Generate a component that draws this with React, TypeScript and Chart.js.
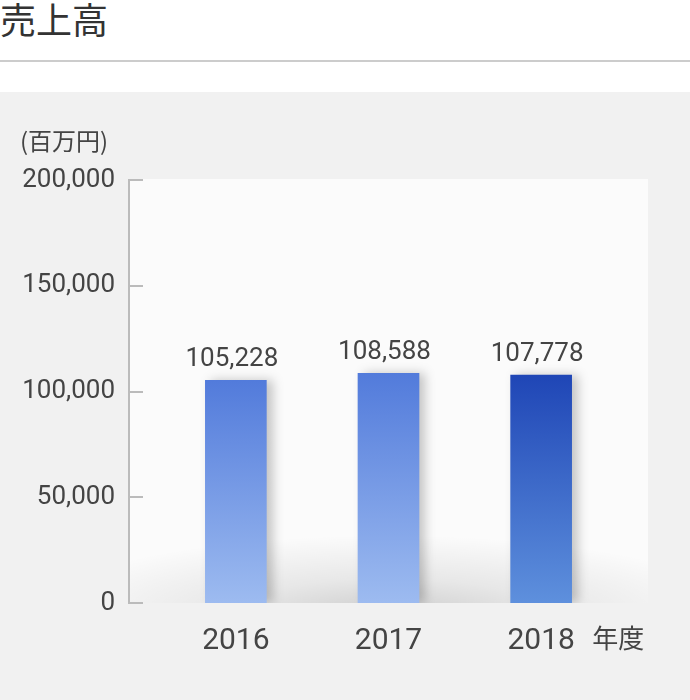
import { useEffect, useRef } from "react";
import { Chart, registerables } from "chart.js";
import type { Plugin } from "chart.js";

Chart.register(...registerables);

const TITLE = "売上高";
const UNIT = "(百万円)";
const X_UNIT = "年度";
const YEARS = ["2016", "2017", "2018"];
const SALES = [105228, 108588, 107778];
const Y_TICKS = [0, 50000, 100000, 150000, 200000];

const BAR_TOP = ["#527bdb", "#527bdb", "#1f46b6"];
const BAR_BOTTOM = ["#9dbbf0", "#9dbbf0", "#5e90dd"];
const TEXT = "#444444";
const NUM_FONT = "Roboto";
const JP_FONT = '"Noto Sans CJK JP"';

const fmt = (v: number) => v.toLocaleString("en-US");

const decor: Plugin<"bar"> = {
  id: "decor",
  beforeDraw(chart) {
    const { ctx, chartArea: a } = chart;
    ctx.save();
    ctx.fillStyle = "#fbfbfb";
    ctx.fillRect(a.left, a.top - 1, a.right - a.left, a.bottom - a.top + 1);
    // soft curved shadow along the floor
    ctx.beginPath();
    ctx.rect(a.left, a.top, a.right - a.left, a.bottom - a.top);
    ctx.clip();
    ctx.translate((a.left + a.right) / 2, a.bottom);
    ctx.scale(4.5, 1);
    const g = ctx.createRadialGradient(0, 12, 0, 0, 12, 80);
    g.addColorStop(0, "rgba(0,0,0,0.19)");
    g.addColorStop(0.45, "rgba(0,0,0,0.08)");
    g.addColorStop(1, "rgba(0,0,0,0)");
    ctx.fillStyle = g;
    ctx.fillRect(-200, -100, 400, 120);
    ctx.restore();
  },
  beforeDatasetsDraw(chart) {
    const { ctx } = chart;
    ctx.save();
    ctx.shadowColor = "rgba(0,0,0,0.22)";
    ctx.shadowBlur = 10;
    ctx.shadowOffsetX = 6;
  },
  afterDatasetsDraw(chart) {
    const { ctx } = chart;
    ctx.restore();
    ctx.save();
    ctx.fillStyle = TEXT;
    ctx.font = `26px ${NUM_FONT}`;
    ctx.textAlign = "center";
    ctx.textBaseline = "alphabetic";
    chart.getDatasetMeta(0).data.forEach((el, i) => {
      ctx.fillText(fmt(SALES[i]), el.x - 4, el.y - 14);
    });
    ctx.restore();
  },
  afterDraw(chart) {
    const { ctx, chartArea: a } = chart;
    const y = chart.scales.y;
    const x = chart.scales.x;
    ctx.save();
    ctx.strokeStyle = "#bbbbbb";
    ctx.lineWidth = 2;
    y.ticks.forEach((t) => {
      const py = Math.round(y.getPixelForValue(t.value));
      ctx.beginPath();
      ctx.moveTo(a.left - 1, py);
      ctx.lineTo(a.left + 14, py);
      ctx.stroke();
    });
    ctx.fillStyle = TEXT;
    ctx.textBaseline = "middle";
    ctx.textAlign = "left";
    ctx.font = `24px ${JP_FONT}`;
    ctx.fillText(UNIT, 20, 49);
    ctx.font = `26px ${JP_FONT}`;
    ctx.fillText(X_UNIT, x.getPixelForValue(YEARS.length - 1) + 51, 546);
    ctx.restore();
  },
};

function SalesChart() {
  const canvasRef = useRef<HTMLCanvasElement>(null);
  const chartRef = useRef<Chart<"bar"> | null>(null);

  useEffect(() => {
    if (!canvasRef.current) return;
    const context = canvasRef.current.getContext("2d");
    if (!context) return;

    if (chartRef.current) {
      chartRef.current.destroy();
    }

    chartRef.current = new Chart(context, {
      type: "bar",
      data: {
        datasets: [
          {
            data: SALES.map((v, i) => ({ x: i, y: v })) as any,
            barThickness: 61,
            backgroundColor: (c: any) => {
              const i = c.dataIndex ?? 0;
              const ch = c.chart as Chart;
              const sy = ch.scales.y;
              if (!sy || !ch.chartArea) return BAR_TOP[i];
              const top = sy.getPixelForValue(SALES[i]);
              const bottom = sy.getPixelForValue(0);
              const g = ch.ctx.createLinearGradient(0, top, 0, bottom);
              g.addColorStop(0, BAR_TOP[i]);
              g.addColorStop(1, BAR_BOTTOM[i]);
              return g;
            },
          },
        ],
      },
      options: {
        animation: false,
        responsive: false,
        layout: { padding: { top: 88, right: 42, left: 0, bottom: 0 } },
        plugins: { legend: { display: false }, tooltip: { enabled: false } },
        scales: {
          x: {
            type: "linear",
            offset: false,
            min: -0.7,
            max: YEARS.length - 0.3,
            afterBuildTicks: (s) => {
              s.ticks = YEARS.map((_, i) => ({ value: i }));
            },
            afterFit: (s) => {
              s.height = 97;
            },
            grid: { display: false, drawTicks: false, offset: false },
            border: { display: false },
            ticks: {
              autoSkip: false,
              maxRotation: 0,
              padding: 20,
              color: TEXT,
              font: { family: NUM_FONT, size: 30 },
              callback: (v) => YEARS[v as number] ?? "",
            },
          },
          y: {
            min: 0,
            max: 200000,
            afterBuildTicks: (s) => {
              s.ticks = Y_TICKS.map((v) => ({ value: v }));
            },
            afterFit: (s) => {
              s.width = 129;
            },
            grid: { display: false, drawTicks: false },
            border: { display: true, color: "#bbbbbb", width: 2 },
            ticks: {
              padding: 14,
              color: TEXT,
              font: { family: NUM_FONT, size: 26 },
              callback: (v) => fmt(Number(v)),
            },
          },
        },
      },
      plugins: [decor],
    });

    return () => {
      chartRef.current?.destroy();
      chartRef.current = null;
    };
  }, []);

  return <canvas ref={canvasRef} width={690} height={608} style={{ display: "block" }} />;
}

export default function App() {
  useEffect(() => {
    document.body.style.margin = "0";
    document.documentElement.style.overflow = "hidden";
  }, []);

  return (
    <div style={{ position: "relative", width: 690, height: 700, background: "#ffffff", overflow: "hidden" }}>
      <div
        style={{
          position: "absolute",
          left: 0,
          top: 0,
          fontFamily: JP_FONT,
          fontSize: 36,
          lineHeight: "36px",
          color: "#333333",
        }}
      >
        {TITLE}
      </div>
      <div style={{ position: "absolute", left: 0, top: 60, width: 690, height: 2, background: "#cccccc" }} />
      <div style={{ position: "absolute", left: 0, top: 92, width: 690, height: 608, background: "#f1f1f1" }}>
        <SalesChart />
      </div>
    </div>
  );
}
